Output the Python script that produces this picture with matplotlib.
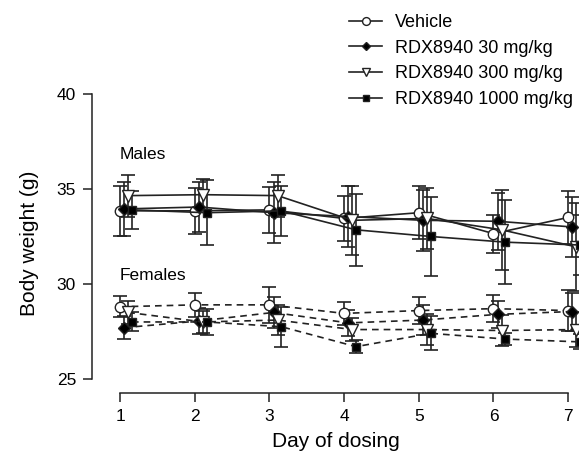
import matplotlib
matplotlib.use("Agg")
import matplotlib.pyplot as plt
import numpy as np

plt.rcParams['font.family'] = ['Liberation Sans', 'DejaVu Sans']

days = [1, 2, 3, 4, 5, 6, 7]
labels = ["Vehicle", "RDX8940 30 mg/kg", "RDX8940 300 mg/kg", "RDX8940 1000 mg/kg"]

# males, mean body weight (g) and error
male_veh = [33.85, 33.85, 33.9, 33.45, 33.75, 32.65, 33.5]
male_30 = [33.95, 34.05, 33.75, 33.55, 33.35, 33.3, 33.0]
male_300 = [34.65, 34.7, 34.65, 33.35, 33.45, 32.85, 31.95]
male_1000 = [33.9, 33.75, 33.85, 32.85, 32.5, 32.2, 32.05]
male_veh_err = [1.3, 1.2, 1.2, 1.2, 1.4, 1.0, 1.4]
male_30_err = [1.4, 1.3, 1.6, 1.6, 1.6, 1.5, 1.6]
male_300_err = [1.1, 0.8, 1.1, 1.8, 1.6, 2.1, 2.3]
male_1000_err = [1.0, 1.7, 1.3, 1.9, 2.1, 2.2, 1.6]

# females
fem_veh = [28.8, 28.9, 28.9, 28.45, 28.6, 28.7, 28.6]
fem_30 = [27.7, 28.05, 28.5, 27.95, 28.1, 28.4, 28.55]
fem_300 = [28.5, 28.0, 28.1, 27.6, 27.6, 27.55, 27.6]
fem_1000 = [28.0, 28.0, 27.75, 26.7, 27.4, 27.1, 26.95]
fem_veh_err = [0.55, 0.65, 0.95, 0.6, 0.7, 0.7, 1.1]
fem_30_err = [0.6, 0.7, 0.8, 0.7, 0.8, 0.7, 1.0]
fem_300_err = [0.6, 0.6, 0.8, 0.6, 0.8, 0.8, 0.9]
fem_1000_err = [0.5, 0.7, 1.05, 0.35, 0.9, 0.3, 0.4]

markers = ['o', 'D', 'v', 's']
faces = ['white', 'black', 'white', 'black']
sizes = [7.5, 6, 8, 6]
offsets = [0.0, 0.055, 0.11, 0.16]
ink = '#222222'

fig = plt.figure(figsize=(5.79, 4.59), dpi=100)
# axes mapped so the plot runs off the right edge like the reference
ax = fig.add_axes([92/579, 1 - 393/459, 487/579, (393 - 94)/459])
ax.set_xlim(0.625, 7.145)
ax.set_ylim(24.26, 40)

males = [(male_veh, male_veh_err), (male_30, male_30_err), (male_300, male_300_err), (male_1000, male_1000_err)]
females = [(fem_veh, fem_veh_err), (fem_30, fem_30_err), (fem_300, fem_300_err), (fem_1000, fem_1000_err)]

handles = []
for group, ls in [(males, '-'), (females, (0, (4, 3)))]:
    for i, (m, e) in enumerate(group):
        x = np.array(days) + offsets[i]
        ax.errorbar(x, m, yerr=e, fmt='none', ecolor=ink, elinewidth=1.2,
                    capsize=5, capthick=1.2, zorder=2, clip_on=False)
        h, = ax.plot(x, m, linestyle=ls, color=ink, lw=1.2, marker=markers[i],
                     markersize=sizes[i], markerfacecolor=faces[i],
                     markeredgecolor=ink, markeredgewidth=1.0, zorder=3, clip_on=False)
        if ls == '-':
            handles.append(h)

ax.text(1.0, 36.8, "Males", fontsize=12.5, va='center', ha='left')
ax.text(1.0, 30.45, "Females", fontsize=12.5, va='center', ha='left')

for s in ['top', 'right']:
    ax.spines[s].set_visible(False)
ax.spines['left'].set_bounds(25, 40)
ax.spines['bottom'].set_bounds(1, 7)
for s in ['left', 'bottom']:
    ax.spines[s].set_color(ink)
    ax.spines[s].set_linewidth(1.1)
ax.set_yticks([25, 30, 35, 40])
ax.set_xticks(days)
ax.tick_params(axis='both', direction='out', length=6.5, width=1.1, color=ink,
               labelsize=12.5, pad=5)
ax.set_ylabel("Body weight (g)", fontsize=15, labelpad=13)
ax.set_xlabel("Day of dosing", fontsize=15, labelpad=6)

fig.legend(handles, labels, loc='upper left', bbox_to_anchor=(349/579, 1 - 14/459),
           frameon=False, fontsize=13, handlelength=1.85, handletextpad=0.7,
           labelspacing=0.48, borderpad=0, borderaxespad=0, markerscale=0.75)

fig.savefig("out.png", dpi=100)
